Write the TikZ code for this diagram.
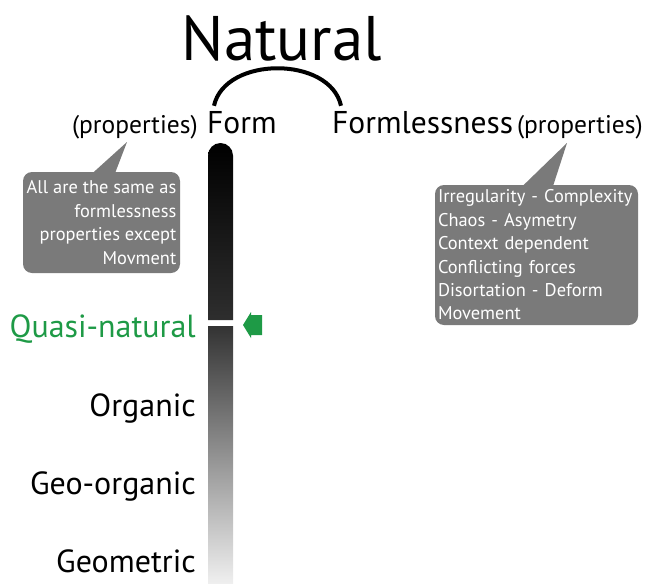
\documentclass[tikz,border=0pt]{standalone}
\usepackage{fontspec}
\setmainfont{PT Sans}
\definecolor{bubblegray}{HTML}{7A7A7A}
\definecolor{quasigreen}{HTML}{1E9A46}
\begin{document}
\begin{tikzpicture}[x=1pt,y=-1pt,
    lbl/.style={inner sep=0pt,anchor=base east,font=\fontsize{32}{32}\selectfont},
    head/.style={inner sep=0pt,anchor=base west,font=\fontsize{31.5}{31.5}\selectfont},
    prop/.style={inner sep=0pt,font=\fontsize{25.5}{25.5}\selectfont},
    bubble/.style={fill=bubblegray,rounded corners=9pt,text=white,inner
        xsep=3pt,inner ysep=0pt,font=\fontsize{18.4}{23.4}\selectfont}]
  \useasboundingbox (0,0) rectangle (646,584);

  % the texts
  \node[inner sep=0pt,anchor=base,font=\fontsize{63}{63}\selectfont] (natural) at (282,60) {Natural};
  \node[head] (form) at (207,133) {Form};
  \node[head] (formless) at (332,133) {Formlessness};
  \node[prop,anchor=base east] (lprop) at (198,133) {(properties)};
  \node[prop,anchor=base east] (rprop) at (643,133) {(properties)};

  \node[lbl,text=quasigreen] (quasi) at (196,337) {Quasi-natural};
  \node[lbl] (organic) at (196,416) {Organic};
  \node[lbl] (geoorganic) at (196,494) {Geo-organic};
  \node[lbl] (geometric) at (196,572) {Geometric};

  % the bubbles
  \node[bubble,align=right,minimum width=157pt,minimum height=101pt] (lb) at (101.5,222.5)
    {All are the same as\\formlessness\\properties except\\Movment};
  \node[bubble,align=left,text width=197pt,minimum height=140pt] (rb) at (536.5,255)
    {Irregularity - Complexity\\Chaos - Asymetry\\Context dependent\\Conflicting forces\\Disortation - Deform\\Movement};
  \coordinate (ltip) at (127,142);
  \coordinate (rtip) at (567,143);
  \fill[bubblegray] ([xshift=69pt,yshift=-2pt]lb.north west) -- (ltip) --
    ([xshift=92pt,yshift=-2pt]lb.north west) -- cycle;
  \fill[bubblegray] ([xshift=87pt,yshift=-2pt]rb.north west) -- (rtip) --
    ([xshift=118pt,yshift=-2pt]rb.north west) -- cycle;

  % the arc
  \draw[line width=4pt] ([xshift=7pt,yshift=5pt]form.north west) .. controls
    +(11,-50) and +(-11,-50) .. ([xshift=9pt,yshift=5pt]formless.north west);

  % the bar
  \shade[top color=black,bottom color=black!82] (208,320) -- (208,155.5)
    arc[start angle=180,end angle=360,radius=12.5] -- (233,320) -- cycle;
  \shade[top color=black!80,bottom color=black!6] (208,326) rectangle (233,584);

  % the arrow
  \fill[quasigreen] (243,325) -- (251,312) -- (251,315) -- (262,315) --
    (262,335) -- (251,335) -- (251,338) -- cycle;
\end{tikzpicture}
\end{document}
